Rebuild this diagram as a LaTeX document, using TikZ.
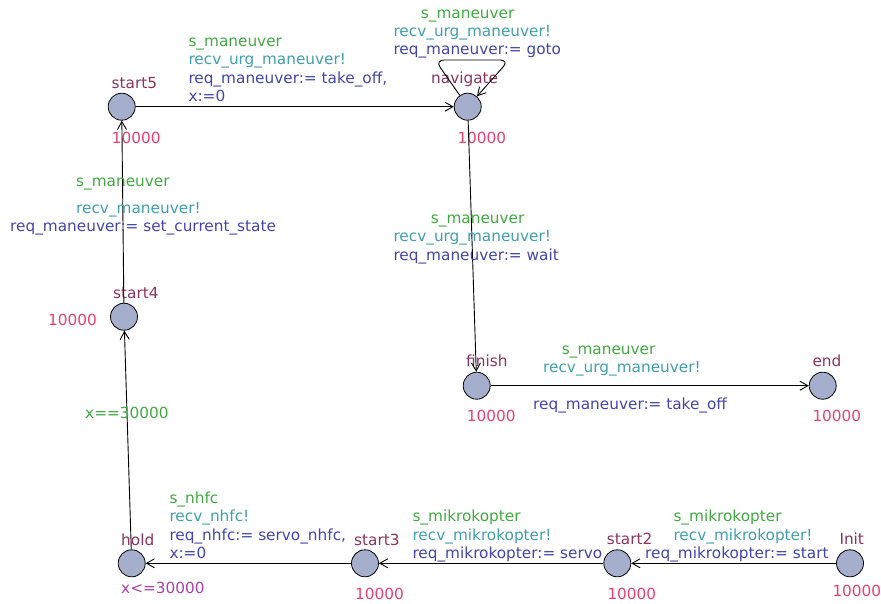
\documentclass[tikz,border=0pt]{standalone}
\usepackage{fontspec}
\setmainfont{DejaVu Sans}
\usetikzlibrary{arrows.meta}

\definecolor{locfill}{RGB}{165,175,205}
\definecolor{namecol}{RGB}{140,50,95}
\definecolor{ratecol}{RGB}{232,64,112}
\definecolor{invcol}{RGB}{170,64,170}
\definecolor{guardcol}{RGB}{64,170,64}
\definecolor{synccol}{RGB}{64,160,170}
\definecolor{updcol}{RGB}{68,68,170}

\begin{document}
\begin{tikzpicture}[x=1pt,y=-1pt]
\tikzset{
  location/.style={circle,draw,thick,fill=locfill,minimum size=27pt,inner sep=0pt},
  lbl/.style={inner sep=0pt,anchor=base west,align=left,font=\fontsize{15.3}{18.5}\selectfont},
  locname/.style={lbl,text=namecol},
  rate/.style={lbl,text=ratecol},
  invariant/.style={lbl,text=invcol},
  guard/.style={lbl,text=guardcol},
  sync/.style={lbl,text=synccol},
  update/.style={lbl,text=updcol},
  edge/.style={-{Straight Barb[length=8pt,width=9pt]},line width=0.9pt}
}
\useasboundingbox (0,0) rectangle (881,603);
% locations
\node[location] (n_start5) at (121.7,106.7) {};
\node[location] (n_navigate) at (467.7,106.7) {};
\node[location] (n_start4) at (124,316.7) {};
\node[location] (n_finish) at (476.7,385.7) {};
\node[location] (n_end) at (822.7,385.7) {};
\node[location] (n_hold) at (131.7,563.3) {};
\node[location] (n_start3) at (365,563.3) {};
\node[location] (n_start2) at (617.3,563.3) {};
\node[location] (n_init) at (850,563.3) {};
% names
\node[locname] (name_start5) at (111.5,88) {start5};
\node[locname] (name_navigate) at (431,83.5) {navigate};
\node[locname] (name_start4) at (113,298.3) {start4};
\node[locname] (name_finish) at (466,366.7) {finish};
\node[locname] (name_end) at (812.3,366.7) {end};
\node[locname] (name_hold) at (121,545) {hold};
\node[locname] (name_start3) at (354,545) {start3};
\node[locname] (name_start2) at (606.7,544.3) {start2};
\node[locname] (name_init) at (839.3,544.3) {Init};
% rates and invariant
\node[rate] (r_start5) at (111.7,143) {10000};
\node[rate] (r_navigate) at (457.3,143) {10000};
\node[rate] (r_start4) at (48,325.7) {10000};
\node[rate] (r_finish) at (466.7,421.7) {10000};
\node[rate] (r_end) at (812.3,421.7) {10000};
\node[rate] (r_start3) at (355,599.3) {10000};
\node[rate] (r_start2) at (607.3,599) {10000};
\node[rate] (r_init) at (832.3,596) {10000};
\node[invariant] (inv_hold) at (121,593.3) {x<=30000};
% coordinates of the self loop
\coordinate (loop_a) at (435,60);
\coordinate (loop_b) at (509.3,60);
% edges
\draw[edge] (n_init) -- (n_start2);
\draw[edge] (n_start2) -- (n_start3);
\draw[edge] (n_start3) -- (n_hold);
\draw[edge] (n_hold) -- (n_start4);
\draw[edge] (n_start4) -- (n_start5);
\draw[edge] (n_start5) -- (n_navigate);
\draw[edge,rounded corners=9pt] (n_navigate) -- (loop_a) -- (loop_b) -- (n_navigate);
\draw[edge] (n_navigate) -- (n_finish);
\draw[edge] (n_finish) -- (n_end);
% edge labels
\node[guard] (g_init) at (673.3,521.7) {s\_mikrokopter};
\node[sync] (s_init) at (673.3,540) {recv\_mikrokopter!};
\node[update] (u_init) at (645,558.3) {req\_mikrokopter:= start};
\node[guard] (g_start2) at (412.3,521.7) {s\_mikrokopter};
\node[sync] (s_start2) at (412.3,540) {recv\_mikrokopter!};
\node[update] (u_start2) at (412.3,558.3) {req\_mikrokopter:= servo};
\node[guard] (g_start3) at (169.3,503.3) {s\_nhfc};
\node[sync] (s_start3) at (169.3,521.7) {recv\_nhfc!};
\node[update] (u_start3) at (169.3,558.5) {req\_nhfc:= servo\_nhfc,\\x:=0};
\node[guard] (g_hold) at (85,418) {x==30000};
\node[guard] (g_start4) at (76,186) {s\_maneuver};
\node[sync] (s_start4) at (76,213.3) {recv\_maneuver!};
\node[update] (u_start4) at (10,231.7) {req\_maneuver:= set\_current\_state};
\node[guard] (g_start5) at (188.3,46) {s\_maneuver};
\node[sync] (s_start5) at (188.3,64.7) {recv\_urg\_maneuver!};
\node[update] (u_start5) at (188.3,101.8) {req\_maneuver:= take\_off,\\x:=0};
\node[guard] (g_loop) at (420.7,18.3) {s\_maneuver};
\node[sync] (s_loop) at (393.3,36.7) {recv\_urg\_maneuver!};
\node[update] (u_loop) at (393.3,54.5) {req\_maneuver:= goto};
\node[guard] (g_navigate) at (430.7,223.3) {s\_maneuver};
\node[sync] (s_navigate) at (393.3,241.7) {recv\_urg\_maneuver!};
\node[update] (u_navigate) at (393.3,260) {req\_maneuver:= wait};
\node[guard] (g_finish) at (561.7,354) {s\_maneuver};
\node[sync] (s_finish) at (543,372.3) {recv\_urg\_maneuver!};
\node[update] (u_finish) at (533,409.3) {req\_maneuver:= take\_off};
\end{tikzpicture}
\end{document}
